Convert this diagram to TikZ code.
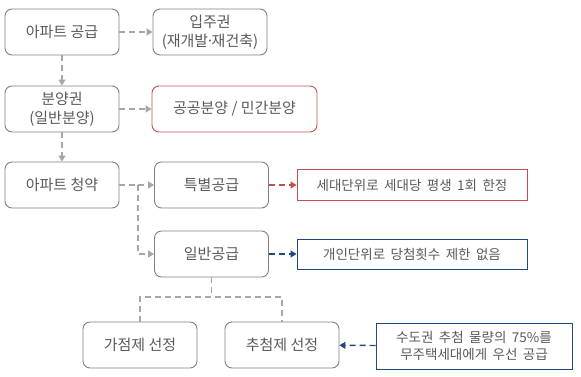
\documentclass[tikz,border=0pt]{standalone}
\usepackage{fontspec}
\setmainfont{Noto Sans CJK KR}
\newfontfamily\notefont[WordSpace=1.8]{Noto Sans CJK KR}
\usepackage{xcolor}
\usetikzlibrary{arrows.meta,positioning}
\definecolor{linegray}{RGB}{166,166,166}
\definecolor{boxgray}{RGB}{127,127,127}
\definecolor{txtgray}{RGB}{89,89,89}
\definecolor{notered}{RGB}{192,80,77}
\definecolor{notenavy}{RGB}{31,73,125}
\newcommand{\middot}{\kern-2.5pt·\kern-2.5pt}
\tikzset{
    stage/.style={draw=boxgray, rounded corners=7pt, line width=0.9pt, align=center,
    minimum width=114pt, minimum height=46pt, text=txtgray,
    font=\fontsize{15}{19}\selectfont, inner sep=2pt},
    note/.style={draw, line width=0.9pt, align=center, text=txtgray,
    font=\notefont\fontsize{13.5}{16.5}\selectfont, inner sep=2pt},
    link/.style={draw=linegray, line width=1.4pt, dash pattern=on 6pt off 4pt},
    linkarrow/.style={link, -{Triangle[length=6pt,width=7pt]}},
}
\begin{document}
\begin{tikzpicture}[x=1pt, y=-1pt]
            \useasboundingbox (0,0) rectangle (581,376);
            % --- supply and rights ---
            \node[stage] (supply) at (62,32) {아파트 공급};
            \node[stage] (occupy) at (210,32) {입주권\\(재개발\middot 재건축)};
            \node[stage] (presale) at (62,109) {분양권\\(일반분양)};
            \node[stage, draw=notered, minimum width=165pt] (kinds) at (234.5,109) {공공분양 / 민간분양};
            % --- subscription ---
            \node[stage] (apply) at (62,185) {아파트 청약};
            \node[stage] (special) at (211.5,185) {특별공급};
            \node[stage] (general) at (211.5,254) {일반공급};
            \node[note, draw=notered, minimum width=230pt, minimum height=31pt] (specnote) at (412,185) {세대단위로 세대당 평생 1회 한정};
            \node[note, draw=notenavy, minimum width=230pt, minimum height=30pt] (gennote) at (412,254) {개인단위로 당첨횟수 제한 없음};
            % --- selection ---
            \node[stage] (points) at (140,345) {가점제 선정};
            \node[stage] (lottery) at (282,345) {추첨제 선정};
            \node[note, draw=notenavy, minimum width=196pt, minimum height=46pt] (lotnote) at (474,346) {수도권 추첨 물량의 75\%를\\무주택세대에게 우선 공급};
            % --- connectors ---
            \coordinate (fork) at (138,185);
            \coordinate (split) at (211.5,297);
            \draw[linkarrow] (supply) -- (occupy);
            \draw[linkarrow] (supply) -- (presale);
            \draw[linkarrow] (presale) -- (kinds);
            \draw[linkarrow] (presale) -- (apply);
            \draw[link] (apply) -- (fork);
            \draw[linkarrow] (fork) -- (special);
            \draw[linkarrow] (fork) |- (general);
            \draw[link] (general) -- (split);
            \draw[link] (points.north) |- (split) -| (lottery.north);
            \draw[linkarrow, draw=notered] (special) -- (specnote);
            \draw[linkarrow, draw=notenavy] (general) -- (gennote);
            \draw[linkarrow, draw=notenavy] (lotnote) -- (lottery);
        \end{tikzpicture}
\end{document}
